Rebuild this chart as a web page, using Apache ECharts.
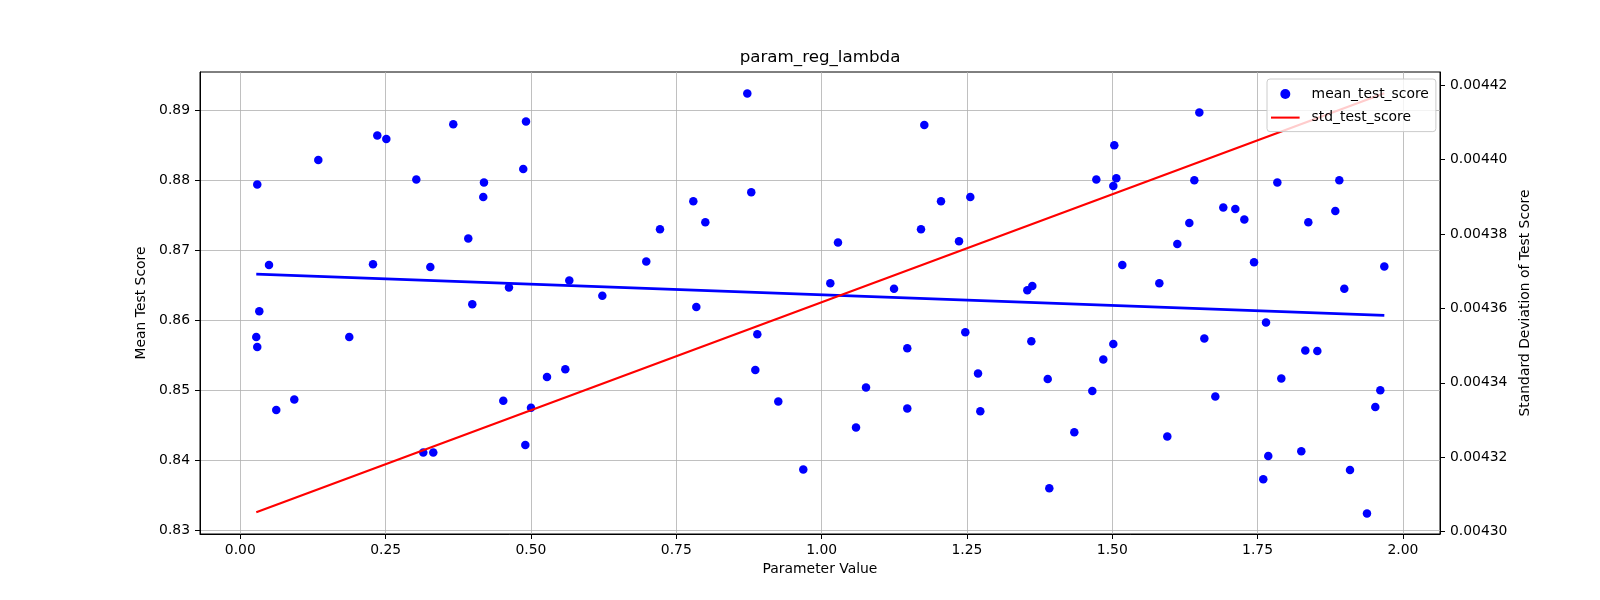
<!DOCTYPE html>
<html>

	<head>
		<meta charset="UTF-8">
		<title>param_reg_lambda</title>
		<style>
			html, body { margin: 0; padding: 0; background: #fff; }
			#myChart { width: 1600px; height: 600px; }
		</style>
	</head>

	<body>
		<div id="myChart"></div>
		<script src="https://cdn.jsdelivr.net/npm/echarts@6/dist/echarts.min.js"></script>
		<script>
			// values
			var paramValues = [
				0.0275, 0.0292, 0.0292, 0.0327, 0.0494, 0.0619, 0.0929, 0.1342, 0.1875, 0.2283,
				0.2357, 0.2512, 0.3028, 0.3148, 0.3269, 0.3320, 0.3664, 0.3922, 0.3991, 0.4180,
				0.4192, 0.4524, 0.4622, 0.4868, 0.4903, 0.4915, 0.5001, 0.5276, 0.5591, 0.5660,
				0.6228, 0.6984, 0.7220, 0.7793, 0.7845, 0.8000, 0.8722, 0.8790, 0.8860, 0.8894,
				0.9255, 0.9685, 1.0150, 1.0282, 1.0592, 1.0764, 1.1246, 1.1474, 1.1474, 1.1710,
				1.1767, 1.2054, 1.2364, 1.2472, 1.2558, 1.2691, 1.2730, 1.3539, 1.3608, 1.3625,
				1.3890, 1.3917, 1.4347, 1.4657, 1.4726, 1.4846, 1.5018, 1.5018, 1.5035, 1.5070,
				1.5173, 1.5810, 1.5947, 1.6119, 1.6326, 1.6412, 1.6498, 1.6584, 1.6773, 1.6910,
				1.7117, 1.7272, 1.7439, 1.7598, 1.7645, 1.7684, 1.7840, 1.7908, 1.8252, 1.8321,
				1.8373, 1.8528, 1.8837, 1.8906, 1.8992, 1.9090, 1.9382, 1.9525, 1.9611, 1.9680
			];
			var meanScores = [
				0.8576, 0.8562, 0.8794, 0.8613, 0.8679, 0.8472, 0.8487, 0.8829, 0.8576, 0.8680,
				0.8864, 0.8859, 0.8801, 0.8411, 0.8676, 0.8411, 0.8880, 0.8717, 0.8623, 0.8776,
				0.8797, 0.8485, 0.8647, 0.8816, 0.8422, 0.8884, 0.8475, 0.8519, 0.8530, 0.8657,
				0.8635, 0.8684, 0.8730, 0.8770, 0.8619, 0.8740, 0.8924, 0.8783, 0.8529, 0.8580,
				0.8484, 0.8387, 0.8653, 0.8711, 0.8447, 0.8504, 0.8645, 0.8560, 0.8474, 0.8730,
				0.8879, 0.8770, 0.8713, 0.8583, 0.8776, 0.8524, 0.8470, 0.8643, 0.8570, 0.8649,
				0.8516, 0.8360, 0.8440, 0.8499, 0.8801, 0.8544, 0.8566, 0.8792, 0.8850, 0.8803,
				0.8679, 0.8653, 0.8434, 0.8709, 0.8739, 0.8800, 0.8897, 0.8574, 0.8491, 0.8761,
				0.8759, 0.8744, 0.8683, 0.8373, 0.8597, 0.8406, 0.8797, 0.8517, 0.8413, 0.8557,
				0.8740, 0.8556, 0.8756, 0.8800, 0.8645, 0.8386, 0.8324, 0.8476, 0.8500, 0.8677
			];
			var lineParams = [0.0275, 1.968];
			var meanTrend = [0.8666, 0.8607];
			var stdScores = [0.0043052, 0.0044178];

			var xTicks = [0, 0.25, 0.5, 0.75, 1.0, 1.25, 1.5, 1.75, 2.0];
			var meanTicks = [0.83, 0.84, 0.85, 0.86, 0.87, 0.88, 0.89];
			var stdTicks = [0.0043, 0.00432, 0.00434, 0.00436, 0.00438, 0.0044, 0.00442];

			var FONT = 'DejaVu Sans';
			var myChart;

			initChart();

			function initChart() {
				myChart = echarts.init(document.getElementById('myChart'), null, { renderer: 'canvas' });
				myChart.setOption(initOptions());
			}

			function pairs(xs, ys) {
				var out = [];
				for (var i = 0; i < xs.length; i++) {
					out.push([xs[i], ys[i]]);
				}
				return out;
			}

			function initOptions() {
				var labelStyle = { color: '#000', fontFamily: FONT, fontSize: 13.9 };
				return {
					animation: false,
					backgroundColor: '#fff',
					textStyle: { fontFamily: FONT },
					title: {
						text: 'param_reg_lambda',
						left: 820,
						top: 49,
						padding: 0,
						textAlign: 'center',
						textStyle: { color: '#000', fontFamily: FONT, fontSize: 16.7, fontWeight: 'normal' }
					},
					legend: {
						orient: 'vertical',
						left: 1267,
						top: 79,
						padding: [8, 7, 7, 4],
						itemWidth: 28.6,
						itemHeight: 10,
						itemGap: 9.6,
						backgroundColor: 'rgba(255,255,255,0.8)',
						borderColor: '#cccccc',
						borderWidth: 1,
						borderRadius: 3,
						textStyle: { color: '#000', fontFamily: FONT, fontSize: 13.9, padding: [0, 0, 0, 7] },
						data: [
							{ name: 'mean_test_score', icon: 'circle' },
							{ name: 'std_test_score', icon: 'path://M0,0 H28 V2 H0 Z' }
						]
					},
					grid: {
						left: 200,
						right: 160,
						top: 72,
						bottom: 66,
						show: true,
						borderColor: '#000',
						borderWidth: 1,
						backgroundColor: 'transparent'
					},
					xAxis: {
						type: 'value',
						min: -0.0693,
						max: 2.0638,
						name: 'Parameter Value',
						nameLocation: 'middle',
						nameGap: 28,
						nameTextStyle: labelStyle,
						axisLine: { show: true, onZero: false, lineStyle: { color: '#000', width: 1 } },
						axisTick: { show: true, length: 5, inside: false, customValues: xTicks, lineStyle: { color: '#000' } },
						axisLabel: {
							show: true,
							margin: 9,
							customValues: xTicks,
							color: '#000',
							fontFamily: FONT,
							fontSize: 13.9,
							formatter: function(v) { return v.toFixed(2); }
						},
						splitLine: { show: true, lineStyle: { color: '#b0b0b0', width: 0.8 } }
					},
					yAxis: [{
						type: 'value',
						position: 'left',
						min: 0.82947,
						max: 0.89547,
						name: 'Mean Test Score',
						nameLocation: 'middle',
						nameRotate: 90,
						nameGap: 47,
						nameTextStyle: labelStyle,
						axisLine: { show: true, onZero: false, lineStyle: { color: '#000', width: 1 } },
						axisTick: { show: true, length: 5, inside: false, customValues: meanTicks, lineStyle: { color: '#000' } },
						axisLabel: {
							show: true,
							margin: 10,
							customValues: meanTicks,
							color: '#000',
							fontFamily: FONT,
							fontSize: 13.9,
							formatter: function(v) { return v.toFixed(2); }
						},
						splitLine: { show: true, lineStyle: { color: '#b0b0b0', width: 0.8 } }
					}, {
						type: 'value',
						position: 'right',
						min: 0.00429938,
						max: 0.00442349,
						name: 'Standard Deviation of Test Score',
						nameLocation: 'middle',
						nameRotate: 90,
						nameGap: 70,
						nameTextStyle: labelStyle,
						axisLine: { show: true, onZero: false, lineStyle: { color: '#000', width: 1 } },
						axisTick: { show: true, length: 5, inside: false, customValues: stdTicks, lineStyle: { color: '#000' } },
						axisLabel: {
							show: true,
							margin: 10,
							customValues: stdTicks,
							color: '#000',
							fontFamily: FONT,
							fontSize: 13.9,
							formatter: function(v) { return v.toFixed(5); }
						},
						splitLine: { show: false }
					}],
					series: [{
						name: 'mean_test_score',
						type: 'scatter',
						yAxisIndex: 0,
						symbol: 'circle',
						symbolSize: 8.5,
						itemStyle: { color: '#0000ff', opacity: 1 },
						data: pairs(paramValues, meanScores)
					}, {
						name: 'mean_trend',
						type: 'line',
						yAxisIndex: 0,
						showSymbol: false,
						symbol: 'none',
						lineStyle: { color: '#0000ff', width: 2.6 },
						data: pairs(lineParams, meanTrend)
					}, {
						name: 'std_test_score',
						type: 'line',
						yAxisIndex: 1,
						showSymbol: false,
						symbol: 'none',
						itemStyle: { color: '#ff0000' },
						lineStyle: { color: '#ff0000', width: 2.2 },
						data: pairs(lineParams, stdScores)
					}]
				};
			}
		</script>
	</body>

</html>
